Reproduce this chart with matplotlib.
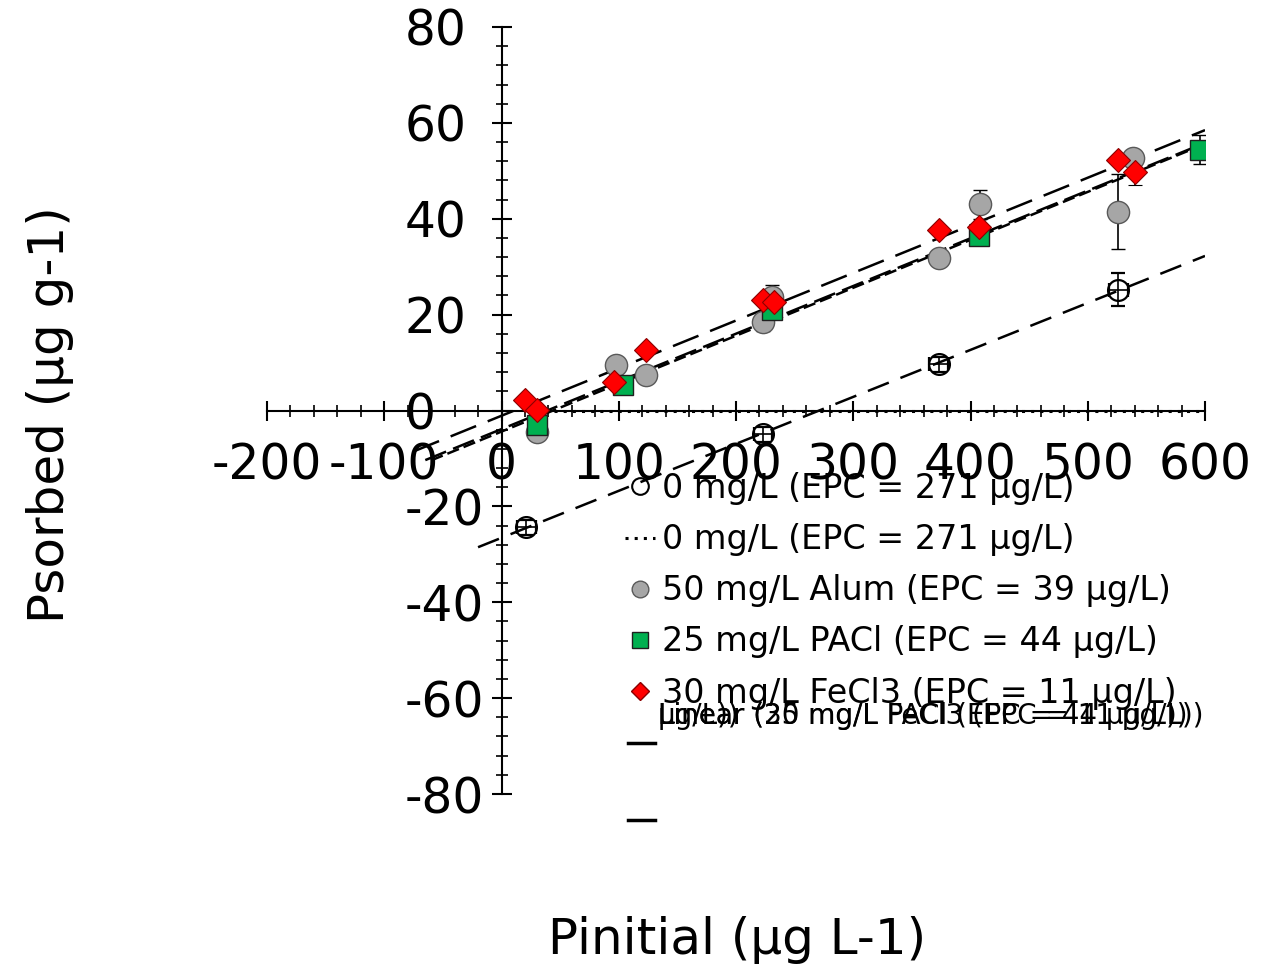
import numpy as np
import matplotlib.pyplot as plt
from matplotlib.lines import Line2D
from matplotlib.ticker import MultipleLocator

plt.rcParams['font.family'] = ['DejaVu Sans']
plt.rcParams['axes.unicode_minus'] = False

# 0 mg/L (no coagulant)
ctrl_x = [21, 223, 373, 526]
ctrl_y = [-24.4, -5.0, 9.6, 25.2]
ctrl_err = [1.5, 1.5, 1.5, 3.5]

# 50 mg/L Alum
alum_x = [30, 98, 123, 223, 231, 373, 408, 526, 539]
alum_y = [-4.4, 9.4, 7.5, 18.5, 23.7, 31.9, 43.0, 41.5, 52.7]
alum_err = [1.5, 1.0, 1.0, 2.0, 2.5, 1.5, 3.0, 7.8, 1.5]

# 25 mg/L PACl
pacl_x = [30, 104, 231, 407, 596]
pacl_y = [-3.0, 5.4, 21.0, 36.3, 54.4]
pacl_err = [2.5, 1.0, 1.5, 1.0, 3.0]

# 30 mg/L FeCl3
fecl_x = [20, 30, 96, 123, 223, 232, 373, 407, 526, 540]
fecl_y = [2.1, 0.2, 6.0, 12.7, 23.0, 22.7, 37.7, 38.3, 52.3, 49.8]
fecl_err = [0.5, 0.5, 0.5, 0.5, 0.5, 0.5, 0.5, 0.5, 0.5, 2.7]

# linear trends: EPC (x-intercept), slope, x range
epc = {'ctrl': 271, 'alum': 39, 'pacl': 44, 'fecl': 11}
slope = {'ctrl': 0.098, 'alum': 0.0995, 'pacl': 0.1, 'fecl': 0.0993}
xstart = {'ctrl': -20, 'alum': -65, 'pacl': -60, 'fecl': -75}
xend = 600

dotted_x = [45, 600]
dotted_y = [0, 0]

labels = ['0 mg/L (EPC = 271 \u00b5g/L)',
          '0 mg/L (EPC = 271 \u00b5g/L)',
          '50 mg/L Alum (EPC = 39 \u00b5g/L)',
          '25 mg/L PACl (EPC = 44 \u00b5g/L)',
          '30 mg/L FeCl3 (EPC = 11 \u00b5g/L)']

fig = plt.figure(figsize=(12.62, 9.74), dpi=100)
ax = fig.add_axes([267/1262, 1 - 794/974, (1205-267)/1262, (794-27)/974])

dashes = {'ctrl': (9, 5), 'alum': (9, 3), 'pacl': (5, 2), 'fecl': (11, 5)}
for k in ['ctrl', 'alum', 'pacl', 'fecl']:
    xs = np.array([xstart[k], xend])
    ax.plot(xs, slope[k] * (xs - epc[k]), color='black', lw=1.8,
            dashes=dashes[k], zorder=2)

ax.plot(dotted_x, dotted_y, color='black', lw=2.2, ls=(0, (1, 2)), zorder=2)

ebkw = dict(ecolor='black', elinewidth=1.2, capsize=5, capthick=1.2, ls='none')
ax.errorbar(ctrl_x, ctrl_y, yerr=ctrl_err, xerr=8, marker='o', ms=15,
            mfc='none', mec='black', mew=1.6, zorder=4, **ebkw)
ax.errorbar(alum_x, alum_y, yerr=alum_err, marker='o', ms=16,
            mfc='#a6a6a6', mec='#595959', mew=1.0, zorder=3, **ebkw)
ax.errorbar(pacl_x, pacl_y, yerr=pacl_err, marker='s', ms=15,
            mfc='#00b050', mec='#1f1f1f', mew=1.0, zorder=3, **ebkw)
ax.errorbar(fecl_x, fecl_y, yerr=fecl_err, marker='D', ms=12,
            mfc='#ff0000', mec='#8b0000', mew=0.8, zorder=3, **ebkw)

ax.set_xlim(-200, 600)
ax.set_ylim(-80, 80)
ax.spines['left'].set_position(('data', 0))
ax.spines['bottom'].set_position(('data', 0))
ax.spines['top'].set_visible(False)
ax.spines['right'].set_visible(False)
for s in ['left', 'bottom']:
    ax.spines[s].set_linewidth(1.5)
ax.patch.set_alpha(0)

ax.xaxis.set_major_locator(MultipleLocator(100))
ax.xaxis.set_minor_locator(MultipleLocator(20))
ax.yaxis.set_major_locator(MultipleLocator(20))
ax.yaxis.set_minor_locator(MultipleLocator(4))
ax.tick_params(which='major', direction='inout', length=14, width=1.5,
               labelsize=35)
ax.tick_params(which='minor', direction='inout', length=8, width=1.2)
ax.tick_params(axis='x', which='major', pad=15)
ax.tick_params(axis='y', which='major', pad=63)
for t in ax.get_yticklabels():
    t.set_horizontalalignment('left')

fig.text(737/1262, 1 - 940/974, 'Pinitial (\u00b5g L-1)', fontsize=36,
         ha='center', va='center')
fig.text(50/1262, 1 - 415/974, 'Psorbed (\u00b5g g-1)', fontsize=36,
         ha='center', va='center', rotation=90)

handles = [
    Line2D([], [], ls='none', marker='o', ms=12, mfc='none', mec='black', mew=1.5),
    Line2D([], [], color='black', lw=2.2, ls=(0, (1, 2))),
    Line2D([], [], ls='none', marker='o', ms=12, mfc='#a6a6a6', mec='#595959'),
    Line2D([], [], ls='none', marker='s', ms=11, mfc='#00b050', mec='#1f1f1f'),
    Line2D([], [], ls='none', marker='D', ms=9, mfc='#ff0000', mec='#8b0000'),
]
leg = ax.legend(handles, labels, loc='upper left',
                bbox_to_anchor=(625/1262, 1 - 472/974),
                bbox_transform=fig.transFigure, frameon=False, fontsize=24,
                handlelength=0.9, handletextpad=0.2, labelspacing=0.545,
                borderpad=0, borderaxespad=0)

# squeezed trend-line entries of the legend
for s in ['Linear (30 mg/L FeCl3 (EPC = 11 \u00b5g/L))',
          'Linear (25 mg/L PACl (EPC = 44 \u00b5g/L))',
          '\u00b5g/L))']:
    fig.text(658/1262, 1 - 716/974, s, fontsize=20, ha='left', va='center')
for yy in [743, 820]:
    fig.add_artist(Line2D([628/1262, 655/1262], [1 - yy/974, 1 - yy/974],
                          color='black', lw=2.5))

fig.savefig('out.png', dpi=100)
